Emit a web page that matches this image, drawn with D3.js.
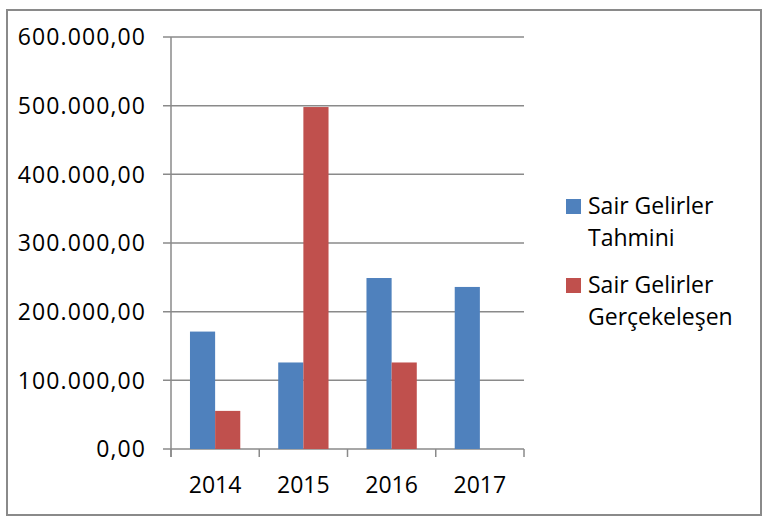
<!DOCTYPE html>
<html>
<head>
<meta charset="utf-8">
<script src="https://cdn.jsdelivr.net/npm/d3@7/dist/d3.min.js"></script>
<style>
  body { margin: 0; background: #fff; }
  svg text { font-family: "Open Sans", sans-serif; fill: #000; }
</style>
</head>
<body>
<svg id="chart" width="775" height="522"></svg>
<script>
// data
const years = ["2014", "2015", "2016", "2017"]
const seriesNames = ["Sair Gelirler Tahmini", "Sair Gelirler Gerçekeleşen"]
const tahmini = [171000, 126000, 249000, 236000]
const gerceklesen = [55500, 498000, 126000, null]
const yTicks = [0, 100000, 200000, 300000, 400000, 500000, 600000]
const colors = ["#4F81BD", "#C0504D"]
const legendLines = [["Sair Gelirler", "Tahmini"], ["Sair Gelirler", "Gerçekeleşen"]]

const svg = d3.select("#chart")

// outer frame
svg.append("rect")
  .attr("x", 7).attr("y", 10)
  .attr("width", 754).attr("height", 505)
  .attr("fill", "#fff")
  .attr("stroke", "#8a8a8a")
  .attr("stroke-width", 2)

const plot = { left: 171, right: 524, top: 37, bottom: 449 }

const y = d3.scaleLinear().domain([0, 600000]).range([plot.bottom, plot.top])
const x0 = d3.scaleBand().domain(years).range([plot.left, plot.right]).padding(0)
const bw = x0.bandwidth()
const x1 = d3.scaleBand().domain(seriesNames).range([bw * 0.215, bw * 0.785])

const fmt = v => d3.format(",.2f")(v).replace(/,/g, "#").replace(".", ",").replace(/#/g, ".")

// gridlines with left ticks
svg.append("g").selectAll("line")
  .data(yTicks).join("line")
  .attr("x1", plot.left - 8).attr("x2", plot.right)
  .attr("y1", d => y(d)).attr("y2", d => y(d))
  .attr("stroke", "#8a8a8a").attr("stroke-width", 1.5)

svg.append("g").selectAll("text")
  .data(yTicks).join("text")
  .attr("x", plot.left - 25)
  .attr("y", d => y(d))
  .attr("dy", "0.36em")
  .attr("text-anchor", "end")
  .style("font-size", "23px")
  .style("letter-spacing", "1.1px")
  .text(fmt)

// bars
const rows = years.map((yr, i) => ({ year: yr, values: [tahmini[i], gerceklesen[i]] }))
svg.append("g").selectAll("g")
  .data(rows).join("g")
  .attr("transform", d => "translate(" + x0(d.year) + ",0)")
  .selectAll("rect")
  .data(d => d.values.map((v, j) => ({ name: seriesNames[j], v: v, j: j })).filter(d => d.v != null))
  .join("rect")
  .attr("x", d => x1(d.name))
  .attr("width", x1.bandwidth())
  .attr("y", d => y(d.v))
  .attr("height", d => y(0) - y(d.v))
  .attr("fill", d => colors[d.j])

// axes lines
svg.append("line")
  .attr("x1", plot.left).attr("x2", plot.left)
  .attr("y1", plot.top).attr("y2", plot.bottom + 8)
  .attr("stroke", "#8a8a8a").attr("stroke-width", 1.5)

const bounds = years.map(d => x0(d)).concat([plot.right])
svg.append("g").selectAll("line")
  .data(bounds).join("line")
  .attr("x1", d => d).attr("x2", d => d)
  .attr("y1", plot.bottom).attr("y2", plot.bottom + 8)
  .attr("stroke", "#8a8a8a").attr("stroke-width", 1.5)

svg.append("g").selectAll("text")
  .data(years).join("text")
  .attr("x", d => x0(d) + bw / 2)
  .attr("y", plot.bottom + 44)
  .attr("text-anchor", "middle")
  .style("font-size", "23px")
  .text(d => d)

// legend
const legend = svg.append("g").selectAll("g")
  .data(legendLines).join("g")
  .attr("transform", (d, i) => "translate(566," + (199 + i * 79) + ")")

legend.append("rect")
  .attr("width", 15).attr("height", 15)
  .attr("fill", (d, i) => colors[i])

legend.append("text")
  .attr("x", 22)
  .style("font-size", "23px")
  .selectAll("tspan")
  .data(d => d).join("tspan")
  .attr("x", 22)
  .attr("y", (d, i) => 15 + i * 32)
  .text(d => d)
</script>
</body>
</html>
